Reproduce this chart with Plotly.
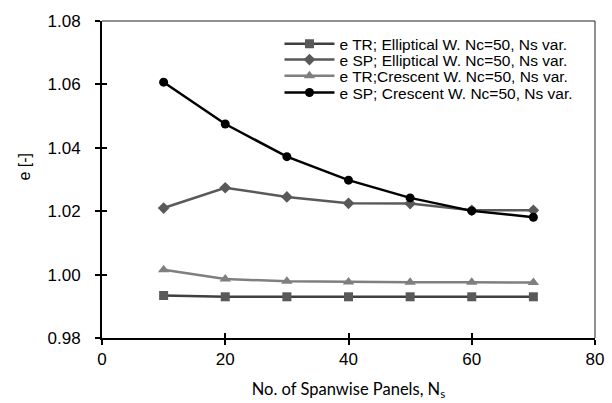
import plotly.graph_objects as go

ns = [10, 20, 30, 40, 50, 60, 70]
tr_ell = [0.9934, 0.9930, 0.9930, 0.9930, 0.9930, 0.9930, 0.9930]
sp_ell = [1.0210, 1.0274, 1.0245, 1.0225, 1.0224, 1.0203, 1.0203]
tr_cre = [1.0015, 0.9986, 0.9979, 0.9977, 0.9976, 0.9976, 0.9975]
sp_cre = [1.0607, 1.0475, 1.0372, 1.0298, 1.0242, 1.0201, 1.0181]

names = ["e TR; Elliptical W. Nc=50, Ns var.",
         "e SP; Elliptical W. Nc=50, Ns var.",
         "e TR;Crescent W. Nc=50, Ns var.",
         "e SP; Crescent W. Nc=50, Ns var."]

x_ticks = [0, 20, 40, 60, 80]
y_ticks = [0.98, 1.00, 1.02, 1.04, 1.06, 1.08]

series = [tr_ell, sp_ell, tr_cre, sp_cre]
line_colors = ["#3f3f3f", "#595959", "#7f7f7f", "#000000"]
marker_colors = ["#595959", "#595959", "#7f7f7f", "#000000"]
symbols = ["square", "diamond", "triangle-up", "circle"]
msizes = [9, 9, 10, 9]
legend_ids = ["legend", "legend2", "legend3", "legend4"]
legend_y = [0.927, 0.877, 0.826, 0.773]

fig = go.Figure()
for i in range(4):
    fig.add_trace(go.Scatter(x=ns, y=series[i], name=names[i], mode="lines+markers",
                             legend=legend_ids[i],
                             line=dict(color=line_colors[i], width=2.5),
                             marker=dict(symbol=symbols[i], size=msizes[i],
                                         color=marker_colors[i])))
# invisible trace to anchor overlay axes (inside tick halves)
fig.add_trace(go.Scatter(x=[None], y=[None], xaxis="x2", yaxis="y2",
                         showlegend=False, hoverinfo="skip"))

font_family = "Liberation Sans, Arial, sans-serif"
leg_common = dict(x=0.36, xanchor="left", yanchor="middle",
                  bgcolor="rgba(0,0,0,0)", font=dict(size=15.5),
                  itemwidth=50)
layout_legends = {}
for i in range(4):
    layout_legends[legend_ids[i]] = dict(leg_common, y=legend_y[i])

fig.update_layout(
    width=612, height=403,
    margin=dict(l=102, r=17, t=21, b=65),
    paper_bgcolor="white", plot_bgcolor="white",
    font=dict(family=font_family, size=16, color="black"),
    showlegend=True,
    xaxis=dict(range=[0, 80], tickvals=x_ticks, showgrid=False, zeroline=False,
               automargin=False,
               showline=True, linecolor="black", linewidth=2,
               ticks="outside", ticklen=5, tickwidth=1.5, tickcolor="black",
               tickfont=dict(size=17),
               title=dict(text="No. of Spanwise Panels, N<sub>s</sub>",
                          font=dict(family="Lato, Open Sans, sans-serif", size=16.5),
                          standoff=15)),
    yaxis=dict(range=[0.98, 1.08], tickvals=y_ticks, tickformat=".2f",
               showgrid=False, zeroline=False, automargin=False,
               showline=True, linecolor="black", linewidth=2,
               ticks="outside", ticklen=5, tickwidth=1.5, tickcolor="black",
               ticklabelstandoff=11,
               tickfont=dict(size=17)),
    xaxis2=dict(range=[0, 80], tickvals=x_ticks, overlaying="x", side="bottom",
                automargin=False,
                showgrid=False, zeroline=False, showline=False, showticklabels=False,
                ticks="inside", ticklen=5, tickwidth=1.5, tickcolor="black"),
    yaxis2=dict(range=[0.98, 1.08], tickvals=y_ticks, overlaying="y", side="left",
                automargin=False,
                showgrid=False, zeroline=False, showline=False, showticklabels=False,
                ticks="inside", ticklen=5, tickwidth=1.5, tickcolor="black"),
    shapes=[dict(type="path", xref="paper", yref="paper",
                 path="M 0,1 L 1,1 L 1,0", line=dict(color="#222222", width=1))],
    annotations=[dict(text="e [-]", textangle=-90, xref="paper", yref="paper",
                      x=-0.159, y=(338 - 167) / 317, xanchor="center", yanchor="middle",
                      showarrow=False, font=dict(size=16))],
    **layout_legends,
)

fig.write_html("out.html")
